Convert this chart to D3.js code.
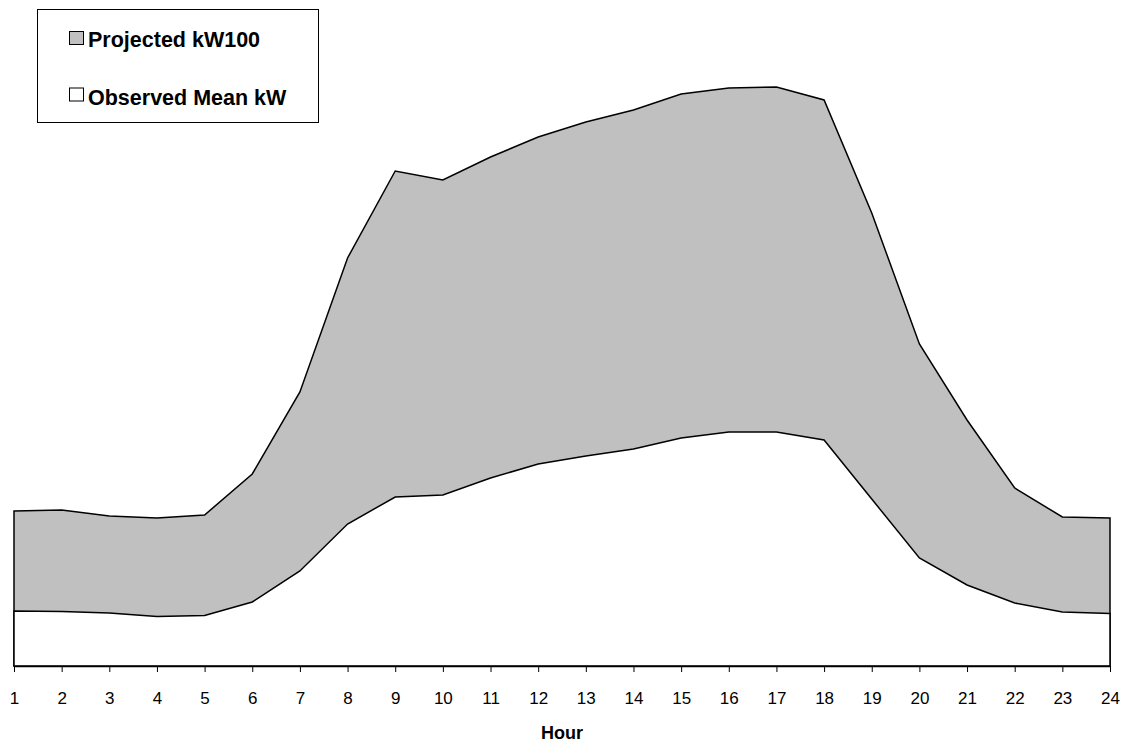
<!DOCTYPE html>
<html>
<head>
<meta charset="utf-8">
<script src="https://cdn.jsdelivr.net/npm/d3@7"></script>
<style>
  body { margin: 0; background: #fff; }
  svg { display: block; font-family: Arial, 'Liberation Sans', sans-serif; }
</style>
</head>
<body>
<div id="chart"></div>
<script>
const hours = [1,2,3,4,5,6,7,8,9,10,11,12,13,14,15,16,17,18,19,20,21,22,23,24];
const projected = [155,156,150,148,151,192,274,408,495,486,509,529,544,556,572,578,579,566,453,322,246,178,149,148];
const observed = [55,54.5,53,49.5,50.5,64,95,142,169,171,188,202,210,217,228,234,234,226,167,108,81,63,54,52.5];
const seriesNames = ['Projected kW100', 'Observed Mean kW'];
const seriesColors = ['#c0c0c0', '#ffffff'];

const svg = d3.select('#chart')
              .append('svg')
              .attr('width', 1122)
              .attr('height', 743);

let x = d3.scaleLinear()
          .domain([1, 24])
          .range([14, 1110]);

let y = d3.scaleLinear()
          .domain([0, 600])
          .range([666, 66]);

let area = d3.area()
             .x((d, i) => x(hours[i]))
             .y0(y(0))
             .y1(d => y(d));

// gray area first, white observed area drawn over it
[projected, observed].forEach((s, k) => {
  svg.append('path')
     .datum(s)
     .attr('fill', seriesColors[k])
     .attr('stroke', '#000')
     .attr('stroke-width', 1.5)
     .attr('stroke-linejoin', 'miter')
     .attr('d', area);
});

let xAxis = svg.append('g')
               .attr('transform', 'translate(0,' + y(0) + ')')
               .call(d3.axisBottom(x).tickValues(hours).tickSize(6).tickSizeOuter(0).tickFormat(d3.format('d')));

xAxis.select('.domain').attr('stroke', '#000').attr('stroke-width', 1.5);
xAxis.selectAll('.tick line').attr('stroke', '#000');
xAxis.selectAll('.tick text')
     .attr('y', 38)
     .attr('dy', 0)
     .attr('fill', '#000')
     .style('font-size', '17px')
     .style('font-family', "Arial, 'Liberation Sans', sans-serif");

svg.append('text')
   .attr('x', 562)
   .attr('y', 739)
   .attr('text-anchor', 'middle')
   .style('font-size', '18px')
   .style('font-weight', 'bold')
   .text('Hour');

// legend
let legend = svg.append('g');
legend.append('rect')
      .attr('x', 37.5)
      .attr('y', 9.5)
      .attr('width', 281)
      .attr('height', 113)
      .attr('fill', '#fff')
      .attr('stroke', '#000')
      .attr('stroke-width', 1);

seriesNames.forEach((name, i) => {
  legend.append('rect')
        .attr('x', 69.5)
        .attr('y', 31.5 + i * 56.5)
        .attr('width', 14)
        .attr('height', 13)
        .attr('fill', seriesColors[i])
        .attr('stroke', '#000')
        .attr('stroke-width', 1);
  legend.append('text')
        .attr('x', 88)
        .attr('y', 47.3 + i * 57.7)
        .style('font-size', '21.5px')
        .style('font-weight', 'bold')
        .text(name);
});
</script>
</body>
</html>
